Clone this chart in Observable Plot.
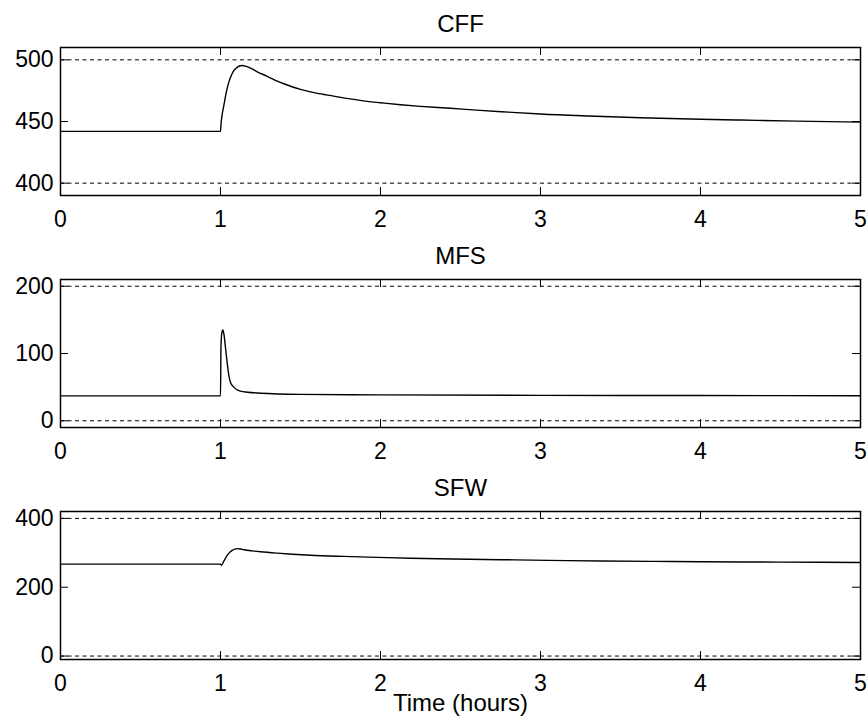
<!DOCTYPE html>
<html>
<head>
<meta charset="utf-8">
<script src="https://cdn.jsdelivr.net/npm/d3@7"></script>
<script src="https://cdn.jsdelivr.net/npm/@observablehq/plot@0.6"></script>
<style>
  html, body { margin: 0; padding: 0; background: #fff; }
  #chart { position: relative; width: 868px; height: 727px; }
  #chart > div { position: absolute; left: 0; }
  svg { font-family: "Liberation Sans", Arial, Helvetica, sans-serif; }
</style>
</head>
<body>
<div id="chart"></div>
<script>
// ---- data ----
const panelTitles = ["CFF", "MFS", "SFW"];
const xTicks = [0, 1, 2, 3, 4, 5];

const cffTime = [0, 1.0, 1.004, 1.012, 1.021, 1.035, 1.052, 1.068, 1.083, 1.1, 1.115, 1.135, 1.16, 1.1875, 1.23, 1.29, 1.34, 1.396, 1.5, 1.6, 1.708, 1.8, 1.917, 2.0, 2.125, 2.25, 2.4375, 2.6, 2.8, 3.0, 3.3, 3.625, 4.0, 4.25, 4.6, 5.0];
const cffValue = [442, 442, 449, 457, 463, 473, 481.9, 487.5, 491.3, 493.5, 494.8, 495.4, 494.7, 493.2, 490.3, 486.7, 483.6, 480.6, 476, 473, 470.6, 468.5, 466.3, 465.2, 463.6, 462.3, 460.7, 459.2, 457.6, 456.1, 454.5, 453.1, 451.8, 451.2, 450.3, 449.5];
const cffLimits = [400, 500];
const cffTicks = [400, 450, 500];
const cffDomain = [390, 510];

const mfsTime = [0, 1.0, 1.003, 1.008, 1.015, 1.022, 1.031, 1.04, 1.048, 1.0625, 1.083, 1.1, 1.125, 1.17, 1.25, 1.5, 2.0, 3.0, 4.0, 5.0];
const mfsValue = [37, 37, 110, 130, 135, 128, 109, 90, 74, 57, 50, 46.5, 44, 42.5, 41, 39.3, 38.5, 37.8, 37.5, 37.3];
const mfsLimits = [0, 200];
const mfsTicks = [0, 100, 200];
const mfsDomain = [-10, 210];

const sfwTime = [0, 1.0, 1.006, 1.02, 1.042, 1.06, 1.073, 1.09, 1.104, 1.125, 1.146, 1.2, 1.25, 1.354, 1.45, 1.5625, 1.77, 1.98, 2.19, 2.45, 2.75, 3.05, 3.375, 3.7, 4.0, 4.5, 5.0];
const sfwValue = [267, 267, 263.5, 275, 292.5, 302, 307, 310.5, 312, 311, 309, 305.5, 303, 299, 296, 293, 289.5, 286.7, 284, 282, 280, 278, 276, 275, 274, 273, 272];
const sfwLimits = [0, 400];
const sfwTicks = [0, 200, 400];
const sfwDomain = [-10, 420];

const xLabel = "Time (hours)";

// ---- layout ----
const W = 868, ML = 60, MR = 8, MT = 47, PH = 148;
const PW = W - ML - MR;
const tickLen = 8;
const tickFont = 23, titleFont = 24;

function panel(title, time, value, limits, yTicks, yDomain, isLast) {
  const data = time.map((t, i) => ({t, v: value[i]}));
  const height = isLast ? 263 : 240;
  const marks = [
    Plot.ruleY(limits, {stroke: "#000", strokeWidth: 1, strokeDasharray: "4,3.5"}),
    Plot.line(data, {x: "t", y: "v", stroke: "#000", strokeWidth: 1.4, curve: "monotone-x"}),
    // inward ticks
    Plot.tickX(xTicks, {x: d => d, stroke: "#000", strokeWidth: 1, insetTop: PH - tickLen}),
    Plot.tickX(xTicks, {x: d => d, stroke: "#000", strokeWidth: 1, insetBottom: PH - tickLen}),
    Plot.tickY(yTicks, {y: d => d, stroke: "#000", strokeWidth: 1, insetRight: PW - tickLen}),
    Plot.tickY(yTicks, {y: d => d, stroke: "#000", strokeWidth: 1, insetLeft: PW - tickLen}),
    Plot.frame({stroke: "#000", strokeWidth: 1.5}),
    Plot.axisX(xTicks, {anchor: "bottom", tickSize: 0, tickPadding: 15, tickFormat: d3.format("d"), fontSize: tickFont, fill: "#000", label: null}),
    Plot.axisY(yTicks, {anchor: "left", tickSize: 0, tickPadding: 7, tickFormat: d3.format("d"), fontSize: tickFont, fill: "#000", label: null}),
    Plot.text([title], {frameAnchor: "top", dy: -33, fontSize: titleFont, fill: "#000"})
  ];
  if (isLast) {
    marks.push(Plot.text([xLabel], {frameAnchor: "bottom", dy: 51, fontSize: titleFont, fill: "#000"}));
  }
  return Plot.plot({
    width: W,
    height,
    marginLeft: ML,
    marginRight: MR,
    marginTop: MT,
    marginBottom: height - MT - PH,
    x: {domain: [0, 5], label: null},
    y: {domain: yDomain, label: null},
    style: {background: "transparent", fontFamily: '"Liberation Sans", Arial, Helvetica, sans-serif'},
    marks
  });
}

const chart = document.getElementById("chart");
const panels = [
  panel(panelTitles[0], cffTime, cffValue, cffLimits, cffTicks, cffDomain, false),
  panel(panelTitles[1], mfsTime, mfsValue, mfsLimits, mfsTicks, mfsDomain, false),
  panel(panelTitles[2], sfwTime, sfwValue, sfwLimits, sfwTicks, sfwDomain, true)
];
panels.forEach((p, i) => {
  const wrap = document.createElement("div");
  wrap.style.top = (i * 232) + "px";
  wrap.appendChild(p);
  chart.appendChild(wrap);
});
</script>
</body>
</html>
